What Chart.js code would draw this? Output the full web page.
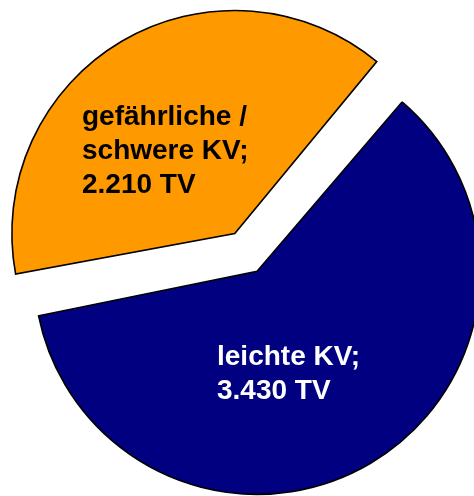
<!DOCTYPE html>
<html>
<head>
<meta charset="utf-8">
<script src="https://cdn.jsdelivr.net/npm/chart.js@4"></script>
<style>
  html, body { margin: 0; padding: 0; background: #fff; }
  #wrap { width: 474px; height: 496px; }
</style>
</head>
<body>
<div id="wrap"><canvas id="pieChart" width="474" height="496"></canvas></div>
<script>
// Werte in TV
const categories = ["gefährliche / schwere KV", "leichte KV"];
const values = [2210, 3430];
const labelLines = [
    ["gefährliche /", "schwere KV;", "2.210 TV"],
    ["leichte KV;", "3.430 TV"]
];
const sliceColors = ["#FF9900", "#000080"];
const labelColors = ["#000000", "#FFFFFF"];

// draw the slice texts
const sliceLabels = {
    id: "sliceLabels",
    afterDatasetsDraw(chart) {
        const ctx = chart.ctx;
        const pos = [
            { x: 82, y: 125 },
            { x: 217, y: 365 }
        ];
        ctx.save();
        ctx.font = "bold 28px 'Liberation Sans', Arial, sans-serif";
        ctx.textAlign = "left";
        ctx.textBaseline = "alphabetic";
        labelLines.forEach((lines, i) => {
            ctx.fillStyle = labelColors[i];
            lines.forEach((line, j) => {
                ctx.fillText(line, pos[i].x, pos[i].y + j * 34);
            });
        });
        ctx.restore();
    }
};

const ctx = document.getElementById("pieChart").getContext("2d");
new Chart(ctx, {
    type: "pie",
    data: {
        labels: categories,
        datasets: [{
            data: values,
            backgroundColor: sliceColors,
            borderColor: "#000000",
            borderWidth: 1.6,
            borderJoinStyle: "miter",
            offset: [128, 48],
            clip: false
        }]
    },
    options: {
        responsive: false,
        animation: false,
        rotation: 259,
        radius: 211,
        layout: { padding: { left: 28, right: 0, top: 26, bottom: 0 } },
        plugins: {
            legend: { display: false },
            tooltip: { enabled: false }
        }
    },
    plugins: [sliceLabels]
});
</script>
</body>
</html>
